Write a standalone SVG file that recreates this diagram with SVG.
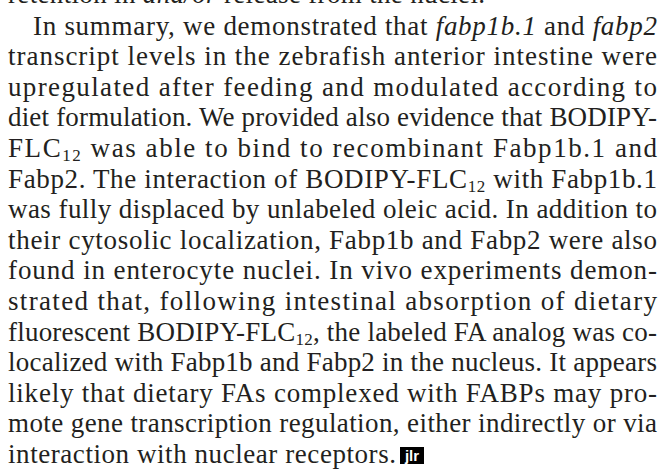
<svg xmlns="http://www.w3.org/2000/svg" width="664" height="476" viewBox="0 0 664 476">
<style>
text{font-family:"Liberation Serif","Times New Roman",serif;font-size:27px;fill:#231f20}
.i{font-style:italic}
.s{font-size:17px}
.logo{font-family:"Liberation Sans",Arial,sans-serif;font-size:15px;font-weight:bold;fill:#ffffff}
</style>
<rect width="664" height="476" fill="#ffffff"/>
<g id="paragraph">
<text x="8" y="3" textLength="477" lengthAdjust="spacing">retention in <tspan class="i">and/or</tspan> release from the nuclei.</text>
<text x="33" y="34.6" textLength="624" lengthAdjust="spacing">In summary, we demonstrated that <tspan class="i">fabp1b.1</tspan> and <tspan class="i">fabp2</tspan></text>
<text x="8" y="65.2" textLength="649" lengthAdjust="spacing">transcript levels in the zebrafish anterior intestine were</text>
<text x="8" y="95.8" textLength="649" lengthAdjust="spacing">upregulated after feeding and modulated according to</text>
<text x="8" y="126.4" textLength="649" lengthAdjust="spacing">diet formulation. We provided also evidence that BODIPY-</text>
<text x="8" y="157" textLength="649" lengthAdjust="spacing">FLC<tspan class="s" dy="4">12</tspan><tspan dy="-4"> was able to bind to recombinant Fabp1b.1 and</tspan></text>
<text x="8" y="187.6" textLength="649" lengthAdjust="spacing">Fabp2. The interaction of BODIPY-FLC<tspan class="s" dy="4">12</tspan><tspan dy="-4"> with Fabp1b.1</tspan></text>
<text x="8" y="218.2" textLength="649" lengthAdjust="spacing">was fully displaced by unlabeled oleic acid. In addition to</text>
<text x="8" y="248.8" textLength="649" lengthAdjust="spacing">their cytosolic localization, Fabp1b and Fabp2 were also</text>
<text x="8" y="279.4" textLength="649" lengthAdjust="spacing">found in enterocyte nuclei. In vivo experiments demon-</text>
<text x="8" y="310" textLength="649" lengthAdjust="spacing">strated that, following intestinal absorption of dietary</text>
<text x="8" y="340.6" textLength="649" lengthAdjust="spacing">fluorescent BODIPY-FLC<tspan class="s" dy="4">12</tspan><tspan dy="-4">, the labeled FA analog was co-</tspan></text>
<text x="8" y="371.2" textLength="649" lengthAdjust="spacing">localized with Fabp1b and Fabp2 in the nucleus. It appears</text>
<text x="8" y="401.8" textLength="649" lengthAdjust="spacing">likely that dietary FAs complexed with FABPs may pro-</text>
<text x="8" y="432.4" textLength="649" lengthAdjust="spacing">mote gene transcription regulation, either indirectly or via</text>
<text x="8" y="463" textLength="388" lengthAdjust="spacing">interaction with nuclear receptors.</text>
</g>
<g id="logo">
<rect x="400" y="447" width="24" height="17" fill="#000000"/>
<text class="logo" x="412" y="461" text-anchor="middle">jlr</text>
</g>
</svg>
